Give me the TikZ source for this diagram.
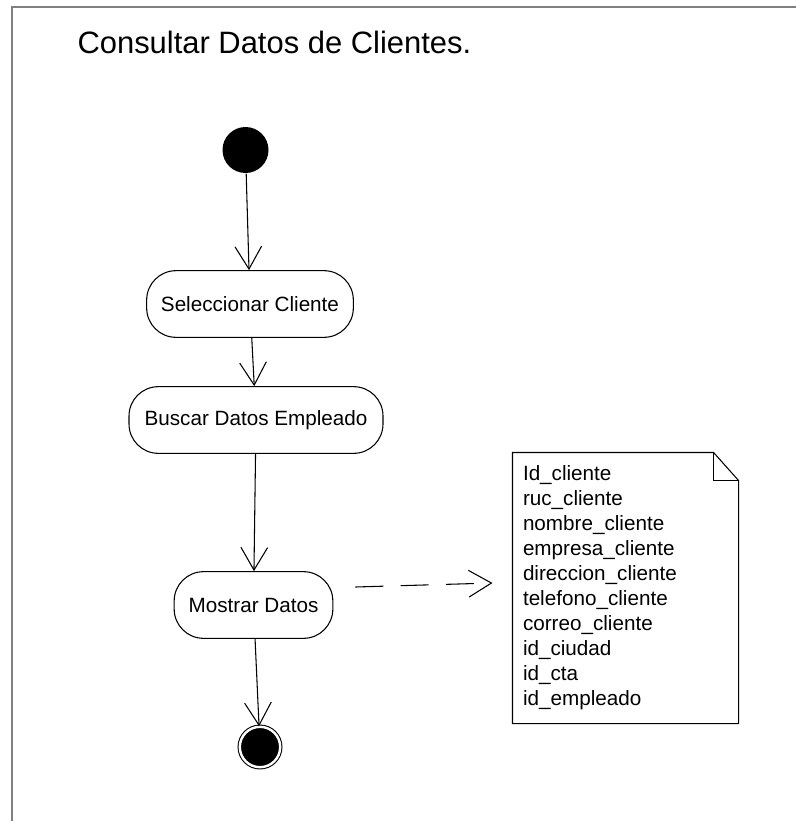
\documentclass[tikz,border=0pt]{standalone}
\usepackage{fontspec}
\setmainfont{Liberation Sans}
\usetikzlibrary{arrows.meta}
\definecolor{framegray}{RGB}{128,128,128}

\begin{document}
\begin{tikzpicture}[x=0.75pt,y=-0.75pt,line width=0.8pt,
	act node/.style = {rectangle,draw,rounded corners=22pt,minimum height=50pt,inner sep=0pt,font=\fontsize{15.5}{18.75}\selectfont},
	ini node/.style = {circle,fill=black,inner sep=0pt,minimum size=34.5pt},
	fin node/.style = {circle,fill=black,draw=black,double=white,double distance=1.8pt,inner sep=0pt,minimum size=30.3pt},
	note node/.style = {rectangle,inner xsep=7.5pt,text width=153.75pt,minimum height=202.5pt,align=left,font=\fontsize{15.5}{18.75}\selectfont},
	flow/.style = {-{Straight Barb[length=17pt,width=20pt]}},
	dep/.style = {flow,dash pattern=on 21pt off 13pt}]
	
	\useasboundingbox (0,0) rectangle (796,821);
	\draw[framegray,line width=1.9pt] (12,821) -- (12,7) -- (796,7);
	
	\node[anchor=base west,inner sep=0pt,font=\fontsize{23.2}{27}\selectfont] (titulo) at (77,53) {Consultar Datos de Clientes.};
	
	\node[ini node] (ini) at (245.5,150) {};
	\node[act node,minimum width=155pt] (sel) at (250,304) {Seleccionar Cliente};
	\node[act node,minimum width=190.5pt] (bus) at (256,420) {Buscar Datos Empleado};
	\node[act node,minimum width=119pt] (mos) at (253.5,605) {Mostrar Datos};
	\node[fin node] (fin) at (260,747) {};
	\node[note node] (datos) at (625.5,588) {Id\_cliente\\ruc\_cliente\\nombre\_cliente\\empresa\_cliente\\direccion\_cliente\\telefono\_cliente\\correo\_cliente\\id\_ciudad\\id\_cta\\id\_empleado};
	
	% hoja de la nota
	\draw (datos.south west) -- (datos.north west) -- ([shift={(-25,0)}]datos.north east) -- ([shift={(0,28)}]datos.north east) -- (datos.south east) -- cycle;
	\draw ([shift={(-25,0)}]datos.north east) |- ([shift={(0,28)}]datos.north east);
	
	\draw[flow] (ini) -- (sel);
	\draw[flow] (sel) -- (bus);
	\draw[flow] (bus) -- (mos);
	\draw[flow] (mos) -- (fin);
	\draw[dep] ([shift={(22,-18)}]mos.east) -- ([shift={(-20,-5)}]datos.west);
	
\end{tikzpicture}
\end{document}
